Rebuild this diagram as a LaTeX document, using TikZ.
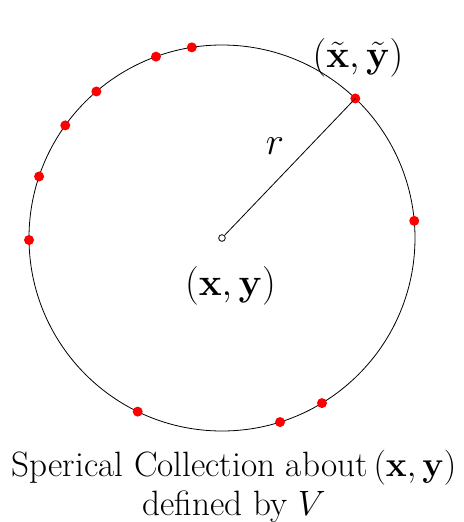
\RequirePackage{fix-cm}
\documentclass[tikz,border=0pt]{standalone}
\usepackage{amsmath}
\begin{document}
\begin{tikzpicture}[x=0.75pt,y=0.75pt,
  sample/.style={circle,fill=red,inner sep=0pt,minimum size=7.5pt},
  lbl/.style={font=\fontsize{29}{34}\selectfont,inner sep=0pt},
  caplbl/.style={font=\fontsize{26.4}{29.3}\selectfont,inner sep=0pt}]
\useasboundingbox (-222,-284) rectangle (242,238);
\node[draw,circle,inner sep=0pt,minimum size=193*1.5pt,line width=0.6pt] (C) at (0,0) {};
\node[draw,circle,fill=white,inner sep=0pt,minimum size=5pt,line width=0.6pt] (O) at (0,0) {};
\foreach \a [count=\i] in {99,110,130.6,144.3,161.4,180.6,244.1,287.5,301.2,5.1}
  \node[sample] (s\i) at (\a:193) {};
\node[sample] (P) at (46.3:193) {};
\draw[line width=0.6pt] (O) -- (P.center);
\node[lbl] (r) at (53,92) {$r$};
\node[lbl] (pt) at (136,180) {$(\tilde{\mathbf{x}},\tilde{\mathbf{y}})$};
\node[lbl] (ctr) at (8.5,-48) {$(\mathbf{x},\mathbf{y})$};
\node[caplbl,align=center] (cap) at (12,-248) {Sperical Collection about$\,(\mathbf{x},\mathbf{y})$\\defined by $V$};
\end{tikzpicture}
\end{document}
